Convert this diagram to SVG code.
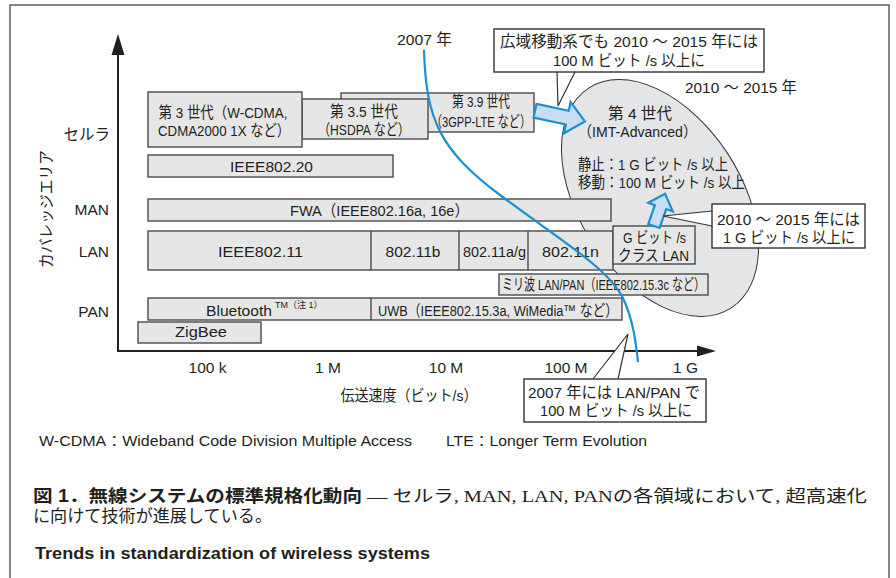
<svg xmlns="http://www.w3.org/2000/svg" width="896" height="578" viewBox="0 0 896 578">
<style>
.t{font-family:"Liberation Sans","Noto Sans CJK JP",sans-serif;font-size:15.5px;fill:#231f20}
.m{text-anchor:middle}
.e{text-anchor:end}
.box{fill:#e6e6e6;stroke:#4a4a4a;stroke-width:1.4}
.call{fill:#fff;stroke:#333;stroke-width:1.4}
.ax{stroke:#231f20;stroke-width:2;fill:none}
.blue{fill:#c8def2;stroke:#1a8fd4;stroke-width:2.2;stroke-linejoin:miter}
.ptr{fill:#fff;stroke:#333;stroke-width:1.2}
.sup{font-family:"Liberation Sans","Noto Sans CJK JP",sans-serif;font-size:9px;fill:#231f20}
.serif{font-family:"Liberation Serif","Noto Sans CJK JP",serif;font-size:17px;fill:#231f20}
</style>
<rect x="10" y="5" width="879" height="600" fill="#fff" stroke="#555" stroke-width="1.4"/>

<g id="axes">
<line class="ax" x1="118" y1="351" x2="118" y2="54"/>
<polygon points="118,34 111.5,55 124.5,55" fill="#231f20"/>
<line class="ax" x1="117" y1="351" x2="698" y2="351"/>
<polygon points="716,351 697,345.5 697,356.5" fill="#231f20"/>
<text class="t e" x="110" y="140">セルラ</text>
<text class="t e" x="109" y="215">MAN</text>
<text class="t e" x="109" y="257">LAN</text>
<text class="t e" x="109" y="317">PAN</text>
<text class="t m" transform="translate(52,209) rotate(-90)" textLength="118" lengthAdjust="spacingAndGlyphs">カバレッジエリア</text>
<text class="t m" x="207.5" y="373">100 k</text>
<text class="t m" x="328" y="373">1 M</text>
<text class="t m" x="446" y="373">10 M</text>
<text class="t m" x="566" y="373">100 M</text>
<text class="t m" x="685.5" y="373">1 G</text>
<text class="t m" x="409" y="401" textLength="137" lengthAdjust="spacingAndGlyphs">伝送速度（ビット/s）</text>
</g>

<g id="g4-ellipse">
<ellipse cx="0" cy="0" rx="131" ry="81" transform="translate(660,198) rotate(57)" fill="#e4e5e7" stroke="#333" stroke-width="1"/>
<text class="t m" x="741" y="93" textLength="112" lengthAdjust="spacingAndGlyphs">2010 〜 2015 年</text>
<text class="t m" x="640" y="119" textLength="64" lengthAdjust="spacingAndGlyphs">第 4 世代</text>
<text class="t m" x="637.5" y="137" textLength="119" lengthAdjust="spacingAndGlyphs">（IMT-Advanced）</text>
<text class="t" x="578" y="170" textLength="150" lengthAdjust="spacingAndGlyphs">静止：1 G ビット /s 以上</text>
<text class="t" x="578" y="188" textLength="167" lengthAdjust="spacingAndGlyphs">移動：100 M ビット /s 以上</text>
</g>

<g id="g39">
<rect class="box" x="341" y="93" width="193" height="39"/>
<text class="t m" x="481" y="107" textLength="58" lengthAdjust="spacingAndGlyphs">第 3.9 世代</text>
<text class="t m" x="481" y="127" textLength="100" lengthAdjust="spacingAndGlyphs">（3GPP-LTE など）</text>
</g>
<g id="g35">
<rect class="box" x="302" y="99" width="126" height="40"/>
<text class="t m" x="364" y="117" textLength="68" lengthAdjust="spacingAndGlyphs">第 3.5 世代</text>
<text class="t m" x="364" y="135" textLength="92" lengthAdjust="spacingAndGlyphs">（HSDPA など）</text>
</g>
<g id="g3">
<rect class="box" x="148" y="92" width="154" height="55"/>
<text class="t m" x="223" y="118" textLength="129" lengthAdjust="spacingAndGlyphs">第 3 世代（W-CDMA,</text>
<text class="t m" x="224" y="136" textLength="132" lengthAdjust="spacingAndGlyphs">CDMA2000 1X など）</text>
</g>
<g id="ieee80220">
<rect class="box" x="148" y="155" width="245" height="22"/>
<text class="t m" x="271.5" y="172" textLength="83" lengthAdjust="spacingAndGlyphs">IEEE802.20</text>
</g>
<g id="fwa">
<rect class="box" x="148" y="199" width="463" height="22"/>
<text class="t m" x="379.5" y="216" textLength="179" lengthAdjust="spacingAndGlyphs">FWA（IEEE802.16a, 16e）</text>
</g>
<g id="lan">
<rect class="box" x="148" y="231" width="465" height="39"/>
<line x1="371" y1="231" x2="371" y2="270" stroke="#4a4a4a" stroke-width="1.4"/>
<line x1="459" y1="231" x2="459" y2="270" stroke="#4a4a4a" stroke-width="1.4"/>
<line x1="528" y1="231" x2="528" y2="270" stroke="#4a4a4a" stroke-width="1.4"/>
<text class="t m" x="260.5" y="257" textLength="85" lengthAdjust="spacingAndGlyphs">IEEE802.11</text>
<text class="t m" x="413" y="257">802.11b</text>
<text class="t m" x="494.5" y="257" textLength="63" lengthAdjust="spacingAndGlyphs">802.11a/g</text>
<text class="t m" x="570.5" y="257" textLength="57" lengthAdjust="spacingAndGlyphs">802.11n</text>
</g>
<g id="gbit">
<rect class="box" x="613" y="226" width="82" height="38"/>
<text class="t m" x="654.5" y="243" textLength="63" lengthAdjust="spacingAndGlyphs">G ビット /s</text>
<text class="t m" x="653.5" y="261" textLength="71" lengthAdjust="spacingAndGlyphs">クラス LAN</text>
</g>
<g id="mmwave">
<rect class="box" x="499" y="274" width="209" height="21"/>
<text class="t m" x="603.5" y="290" textLength="203" lengthAdjust="spacingAndGlyphs">ミリ波 LAN/PAN（IEEE802.15.3c など）</text>
</g>
<g id="pan">
<rect class="box" x="148" y="298" width="474" height="22"/>
<line x1="371" y1="298" x2="371" y2="320" stroke="#4a4a4a" stroke-width="1.4"/>
<text class="t" x="206" y="316" textLength="66" lengthAdjust="spacingAndGlyphs">Bluetooth</text>
<text class="sup" x="275" y="308">TM（注 1）</text>
<text class="t" x="378" y="316" textLength="240" lengthAdjust="spacingAndGlyphs">UWB（IEEE802.15.3a, WiMedia™ など）</text>
</g>
<g id="zigbee">
<rect class="box" x="138" y="322" width="123" height="21"/>
<text class="t m" x="201" y="337" textLength="52" lengthAdjust="spacingAndGlyphs">ZigBee</text>
</g>

<g id="connectors">
<polygon class="blue" points="-1,-7 32,-7 32,-16 50,0 32,16 32,7 -1,7" transform="translate(536,111) rotate(12)"/>
<polygon class="blue" points="-6,0 -6,-20 -13,-20 0,-34 13,-20 6,-20 6,0" transform="translate(654,226) rotate(19)"/>
<path d="M424,50 C426,120 440,150 500,195 C560,240 608,268 623,298 C634,322 636,345 638,362" fill="none" stroke="#1a8fd4" stroke-width="2.2"/>
<polyline class="ptr" points="557,72 558,106 575,72"/>
<polyline class="ptr" points="712,211 663,216 712,226"/>
<polyline class="ptr" points="593,379 628,334 618,379"/>
</g>

<g id="label2007">
<text class="t m" x="424.5" y="45" textLength="55" lengthAdjust="spacingAndGlyphs">2007 年</text>
</g>
<g id="callout-cellular">
<rect class="call" x="494" y="29" width="270" height="43"/>
<text class="t m" x="629" y="47" textLength="258" lengthAdjust="spacingAndGlyphs">広域移動系でも 2010 〜 2015 年には</text>
<text class="t m" x="629" y="66" textLength="152" lengthAdjust="spacingAndGlyphs">100 M ビット /s 以上に</text>
</g>
<g id="callout-1g">
<rect class="call" x="712" y="204" width="153" height="44"/>
<text class="t m" x="788.5" y="225" textLength="143" lengthAdjust="spacingAndGlyphs">2010 〜 2015 年には</text>
<text class="t m" x="789" y="243" textLength="132" lengthAdjust="spacingAndGlyphs">1 G ビット /s 以上に</text>
</g>
<g id="callout-2007">
<rect class="call" x="524" y="379" width="182" height="43"/>
<text class="t m" x="614" y="398" textLength="172" lengthAdjust="spacingAndGlyphs">2007 年には LAN/PAN で</text>
<text class="t m" x="616" y="416" textLength="152" lengthAdjust="spacingAndGlyphs">100 M ビット /s 以上に</text>
</g>

<g id="notes">
<text class="t" x="39" y="446" style="font-size:14px" textLength="373" lengthAdjust="spacingAndGlyphs">W-CDMA：Wideband Code Division Multiple Access</text>
<text class="t" x="446" y="446" style="font-size:14px" textLength="201" lengthAdjust="spacingAndGlyphs">LTE：Longer Term Evolution</text>
</g>
<g id="caption">
<text class="t" x="33" y="502" style="font-size:17.5px;font-weight:bold" textLength="329" lengthAdjust="spacingAndGlyphs">図 1．無線システムの標準規格化動向</text>
<text class="serif" x="367" y="502" textLength="500" lengthAdjust="spacingAndGlyphs">— セルラ, MAN, LAN, PANの各領域において, 超高速化</text>
<text class="serif" x="33" y="522" textLength="239" lengthAdjust="spacingAndGlyphs">に向けて技術が進展している。</text>
<text class="t" x="35" y="559" style="font-size:16px;font-weight:bold" textLength="395" lengthAdjust="spacingAndGlyphs">Trends in standardization of wireless systems</text>
</g>
</svg>
